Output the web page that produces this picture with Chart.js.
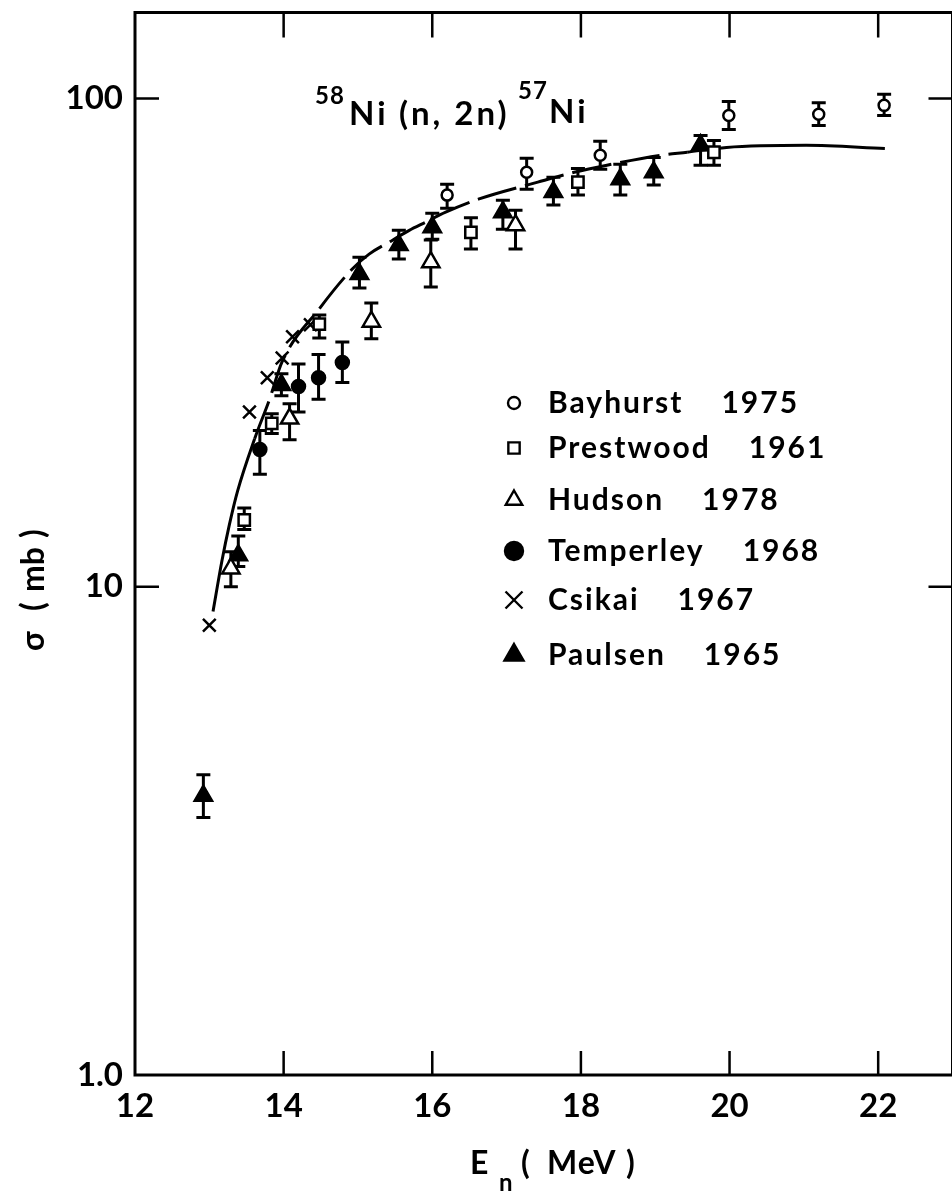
<!DOCTYPE html>
<html>
<head>
<meta charset="utf-8">
<script src="https://cdn.jsdelivr.net/npm/chart.js@4/dist/chart.umd.min.js"></script>
<style>
  html, body { margin: 0; padding: 0; background: #fff; overflow: hidden; }
  canvas { display: block; }
</style>
</head>
<body>
<canvas id="xsChart" width="965" height="1197"></canvas>
<script>
// axis ticks
const energyTicks = [12, 14, 16, 18, 20, 22];
const sigmaTicks = [1, 10, 100];
const sigmaTickLabels = ['1.0', '10', '100'];

// legend text
const seriesNames = ['Bayhurst', 'Prestwood', 'Hudson', 'Temperley', 'Csikai', 'Paulsen'];
const seriesYears = ['1975', '1961', '1978', '1968', '1967', '1965'];

// Bayhurst 1975
const bayE = [16.2, 17.27, 18.26, 19.99, 21.2, 22.08];
const baySig = [63.4, 70.6, 76.5, 92.3, 92.8, 96.8];
const bayLo = [59.6, 65.2, 71.6, 86.4, 88.0, 92.3];
const bayHi = [66.7, 75.4, 81.7, 98.6, 98.0, 102];

// Prestwood 1961
const preE = [13.47, 13.84, 14.48, 16.52, 17.96, 19.79];
const preSig = [13.7, 21.6, 34.5, 53.2, 67.4, 77.6];
const preLo = [13.1, 20.6, 32.3, 49.2, 63.4, 73.0];
const preHi = [14.5, 22.6, 36.0, 57.0, 71.9, 82.0];

// Hudson 1978
const hudE = [13.29, 14.08, 15.18, 15.98, 17.12];
const hudSig = [10.9, 22.1, 34.9, 46.2, 55.0];
const hudLo = [10.0, 20.0, 32.2, 41.1, 49.2];
const hudHi = [11.8, 23.7, 38.1, 51.3, 59.0];

// Temperley 1968
const temE = [13.68, 14.2, 14.47, 14.79];
const temSig = [19.1, 25.7, 26.8, 28.8];
const temLo = [17.0, 22.8, 24.2, 26.2];
const temHi = [20.9, 28.6, 29.9, 31.7];

// Csikai 1967 (no error bars)
const csiE = [13.0, 13.54, 13.78, 13.98, 14.12, 14.36];
const csiSig = [8.34, 22.8, 26.8, 29.4, 32.5, 34.4];

// Paulsen 1965
const pauE = [12.92, 13.39, 13.97, 15.02, 15.55, 16.0, 16.95, 17.63, 18.53, 18.98, 19.61];
const pauSig = [3.73, 11.6, 25.9, 43.7, 50.1, 54.5, 58.5, 64.3, 68.3, 70.6, 80.2];
const pauLo = [3.37, 11.0, 24.6, 40.9, 46.9, 51.5, 54.0, 60.5, 63.4, 66.5, 73.0];
const pauHi = [4.12, 12.7, 27.3, 47.3, 53.7, 58.2, 61.9, 69.0, 73.3, 75.7, 84.0];

// eye-guide curve
const curveE = [13.05, 13.17, 13.27, 13.38, 13.61, 13.81, 13.98, 14.48, 14.92, 15.15, 15.46, 15.69, 15.91, 16.18, 16.62, 17.42, 17.91, 18.35, 19.08, 19.43, 19.96, 21.03, 22.09];
const curveSig = [8.9, 11.3, 13.4, 15.7, 20.1, 24.2, 28.9, 37.1, 44.7, 48.0, 51.2, 53.7, 55.8, 58.5, 62.2, 67.4, 70.6, 73.0, 76.5, 77.6, 79.4, 80.2, 79.0];

const FONT = 'Lato, "DejaVu Sans", sans-serif';

function pts(xs, ys) {
  return xs.map((x, i) => ({ x: x, y: ys[i] }));
}

function series(label, xs, ys, lo, hi, style, radius, legendRadius, filled) {
  return {
    label: label,
    data: pts(xs, ys),
    errLow: lo,
    errHigh: hi,
    legendRadius: legendRadius,
    pointStyle: style,
    pointRadius: radius,
    pointBorderWidth: 2.5,
    pointBackgroundColor: filled ? '#000' : '#fff',
    pointBorderColor: '#000',
    showLine: false,
    order: 0
  };
}

const datasets = [
  series(seriesNames[0], bayE, baySig, bayLo, bayHi, 'circle', 5.5, 6, false),
  series(seriesNames[1], preE, preSig, preLo, preHi, 'rect', 8, 8, false),
  series(seriesNames[2], hudE, hudSig, hudLo, hudHi, 'triangle', 10, 9.5, false),
  series(seriesNames[3], temE, temSig, temLo, temHi, 'circle', 6.5, 9, true),
  series(seriesNames[4], csiE, csiSig, null, null, 'crossRot', 9, 12, false),
  series(seriesNames[5], pauE, pauSig, pauLo, pauHi, 'triangle', 10, 11, true),
  {
    label: 'curve',
    data: pts(curveE, curveSig),
    showLine: true,
    pointRadius: 0,
    borderColor: '#000',
    borderWidth: 3,
    cubicInterpolationMode: 'monotone',
    segment: {
      borderDash: ctx => (ctx.p0.parsed.x >= 13.6 && ctx.p1.parsed.x <= 19.5) ? [40, 9] : undefined
    },
    order: 10
  }
];

// error bars, drawn under the markers
const errorBars = {
  id: 'errorBars',
  beforeDatasetsDraw(chart) {
    const ctx = chart.ctx;
    const ys = chart.scales.y;
    ctx.save();
    ctx.strokeStyle = '#000';
    ctx.lineWidth = 3;
    chart.data.datasets.forEach((ds, di) => {
      if (!ds.errLow) return;
      const meta = chart.getDatasetMeta(di);
      meta.data.forEach((pt, j) => {
        const yTop = ys.getPixelForValue(ds.errHigh[j]);
        const yBot = ys.getPixelForValue(ds.errLow[j]);
        ctx.beginPath();
        ctx.moveTo(pt.x, yTop); ctx.lineTo(pt.x, yBot);
        ctx.moveTo(pt.x - 7, yTop); ctx.lineTo(pt.x + 7, yTop);
        ctx.moveTo(pt.x - 7, yBot); ctx.lineTo(pt.x + 7, yBot);
        ctx.stroke();
      });
    });
    ctx.restore();
  }
};

// frame, inward ticks, titles and legend
const decor = {
  id: 'decor',
  afterDraw(chart) {
    const ctx = chart.ctx;
    const a = chart.chartArea;
    const xs = chart.scales.x, ys = chart.scales.y;
    ctx.save();
    ctx.strokeStyle = '#000';
    ctx.fillStyle = '#000';
    ctx.lineWidth = 3;
    ctx.strokeRect(a.left, a.top, a.right - a.left, a.bottom - a.top);

    ctx.lineWidth = 2.5;
    ctx.beginPath();
    energyTicks.slice(1).forEach(v => {
      const x = xs.getPixelForValue(v);
      ctx.moveTo(x, a.bottom); ctx.lineTo(x, a.bottom - 24);
      ctx.moveTo(x, a.top); ctx.lineTo(x, a.top + 25);
    });
    sigmaTicks.slice(1).forEach(v => {
      const y = ys.getPixelForValue(v);
      ctx.moveTo(a.left, y); ctx.lineTo(a.left + 24, y);
      ctx.moveTo(a.right, y); ctx.lineTo(a.right - 24, y);
    });
    ctx.stroke();

    // reaction label
    ctx.textBaseline = 'alphabetic';
    ctx.textAlign = 'left';
    ctx.letterSpacing = '1px';
    ctx.font = 'bold 24px ' + FONT;
    ctx.fillText('58', 315, 104);
    ctx.fillText('57', 518, 99);
    ctx.letterSpacing = '3px';
    ctx.font = 'bold 33px ' + FONT;
    ctx.fillText('Ni', 349, 125);
    ctx.fillText('(n, 2n)', 399, 125);
    ctx.fillText('Ni', 549, 123);

    // x axis title
    ctx.letterSpacing = '1px';
    ctx.font = 'bold 32px ' + FONT;
    ctx.fillText('E', 470, 1174);
    ctx.fillText('(', 521, 1174);
    ctx.fillText('MeV', 547, 1174);
    ctx.fillText(')', 626, 1174);
    ctx.font = 'bold 24px ' + FONT;
    ctx.fillText('n', 499, 1191);

    // y axis title
    ctx.save();
    ctx.translate(44, 651);
    ctx.rotate(-Math.PI / 2);
    ctx.letterSpacing = '0px';
    ctx.font = 'bold 32px ' + FONT;
    ctx.fillText('\u03c3', 0, 0);
    ctx.fillText('(', 40, 0);
    ctx.fillText('mb', 59, 0);
    ctx.fillText(')', 113, 0);
    ctx.restore();

    // legend
    const rowY = [403, 448, 500, 551, 600, 655];
    chart.data.datasets.slice(0, seriesNames.length).forEach((ds, i) => {
      const y = rowY[i];
      ctx.fillStyle = ds.pointBackgroundColor;
      ctx.strokeStyle = '#000';
      ctx.lineWidth = 2.4;
      Chart.helpers.drawPoint(ctx, {
        pointStyle: ds.pointStyle, radius: ds.legendRadius, borderWidth: 2.4, rotation: 0
      }, 514, y);
      ctx.fillStyle = '#000';
      ctx.font = 'bold 30px ' + FONT;
      ctx.letterSpacing = '2px';
      ctx.textBaseline = 'middle';
      ctx.fillText(seriesNames[i], 548, y);
      const w = ctx.measureText(seriesNames[i]).width;
      ctx.fillText(seriesYears[i], 548 + w + 38, y);
    });
    ctx.restore();
  }
};

new Chart(document.getElementById('xsChart'), {
  type: 'scatter',
  data: { datasets },
  options: {
    responsive: false,
    animation: false,
    devicePixelRatio: 1,
    layout: { padding: { top: 8, right: 0, left: 0, bottom: 0 } },
    plugins: { legend: { display: false }, tooltip: { enabled: false } },
    scales: {
      x: {
        type: 'linear',
        min: 12,
        max: 23,
        afterFit: s => { s.height = 122; s.paddingLeft = 0; s.paddingRight = 0; },
        afterBuildTicks: s => { s.ticks = energyTicks.map(v => ({ value: v })); },
        grid: { display: false, drawTicks: false },
        border: { display: false },
        ticks: {
          color: '#000',
          padding: 12,
          maxRotation: 0,
          font: { family: FONT, size: 33, weight: 'bold' }
        }
      },
      y: {
        type: 'logarithmic',
        min: 1,
        max: 150,
        afterFit: s => { s.width = 135; s.paddingTop = 0; s.paddingBottom = 0; },
        afterBuildTicks: s => { s.ticks = sigmaTicks.map(v => ({ value: v })); },
        grid: { display: false, drawTicks: false },
        border: { display: false },
        ticks: {
          color: '#000',
          padding: 12,
          font: { family: FONT, size: 33, weight: 'bold' },
          callback: v => sigmaTickLabels[sigmaTicks.indexOf(v)]
        }
      }
    }
  },
  plugins: [errorBars, decor]
});
</script>
</body>
</html>
